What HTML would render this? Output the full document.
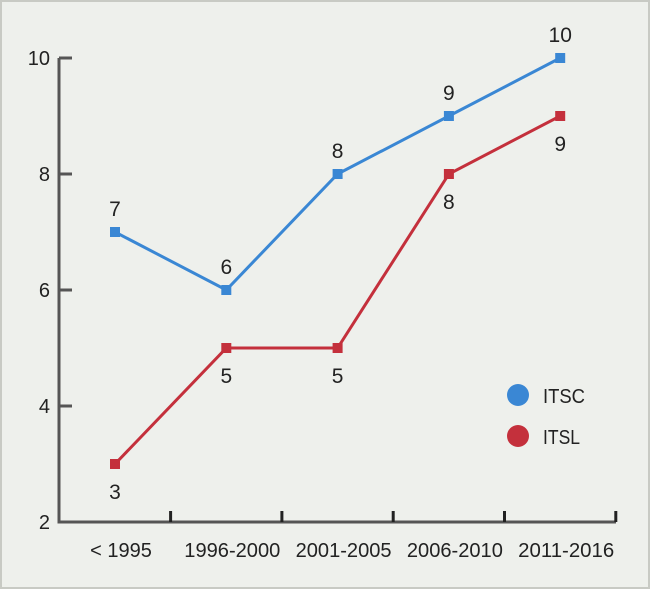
<!DOCTYPE html>
<html><head><meta charset="utf-8"><style>
html,body{margin:0;padding:0;background:#eef0ec;}
svg{display:block;font-family:"Liberation Sans",Arial,sans-serif;}
</style></head><body>
<svg id="chart" width="650" height="589">
<rect x="1" y="1" width="648" height="587" fill="#eef0ec" stroke="#c8cac4" stroke-width="2"/>
<g id="axes"></g>
<g id="series"></g>
<g>
<circle cx="518" cy="395" r="11" fill="#3a87d4"/>
<text x="543" y="403" font-size="20" fill="#222" textLength="42" lengthAdjust="spacingAndGlyphs">ITSC</text>
<circle cx="518" cy="436" r="11" fill="#c4303c"/>
<text x="543" y="444" font-size="20" fill="#222" textLength="37" lengthAdjust="spacingAndGlyphs">ITSL</text>
</g>
</svg>
<script>
const categories=["< 1995","1996-2000","2001-2005","2006-2010","2011-2016"];
const itsc=[7,6,8,9,10];
const itsl=[3,5,5,8,9];
const yTicks=[2,4,6,8,10];
const NS="http://www.w3.org/2000/svg";
function y(v){return 522-(v-2)*58;}
function x(i){return 115+i*111.3;}
function mk(tag,attrs,parent,text){const e=document.createElementNS(NS,tag);for(const k in attrs)e.setAttribute(k,attrs[k]);if(text!==undefined)e.textContent=text;parent.appendChild(e);return e;}
const axes=document.getElementById('axes');
const ax=mk('path',{d:'M59,58 V522 H616',fill:'none',stroke:'#555',"stroke-width":3},axes);


yTicks.forEach(t=>{
  const l=mk('line',{x1:59,x2:72,y1:y(t),y2:y(t),stroke:'#555',"stroke-width":3},axes);
  
  
  const tx=mk('text',{x:50,y:y(t)+7,"text-anchor":"end","font-size":20,fill:'#222'},axes,String(t));
  
  
});
categories.forEach((c,i)=>{
  const tx0=x(i)+55.6;
  const l=mk('line',{x1:tx0,x2:tx0,y1:522,y2:511,stroke:'#222',"stroke-width":3},axes);
  
  
  const attrs={x:x(i)+6,y:557,"text-anchor":"middle","font-size":20,fill:'#222'};
  if(i>0){attrs.textLength=96;attrs.lengthAdjust="spacingAndGlyphs";}
  const tx=mk('text',attrs,axes,c);
  
  
});
const sg=document.getElementById('series');
function drawSeries(vals,color,name,labelAbove){
  const p=mk('polyline',{points:vals.map((v,i)=>x(i)+','+y(v)).join(' '),fill:'none',stroke:color,"stroke-width":3},sg);
  
  
  vals.forEach((v,i)=>{
    const r=mk('rect',{x:x(i)-5,y:y(v)-5,width:10,height:10,fill:color},sg);
    
    
    const ly=labelAbove[i]?y(v)-16:y(v)+35;
    const t=mk('text',{x:x(i),y:ly,"text-anchor":"middle","font-size":21,fill:'#222'},sg,String(v));
    
    
  });
}
drawSeries(itsc,'#3a87d4','itsc',[true,true,true,true,true]);
drawSeries(itsl,'#c4303c','itsl',[false,false,false,false,false]);
</script>
</body></html>
